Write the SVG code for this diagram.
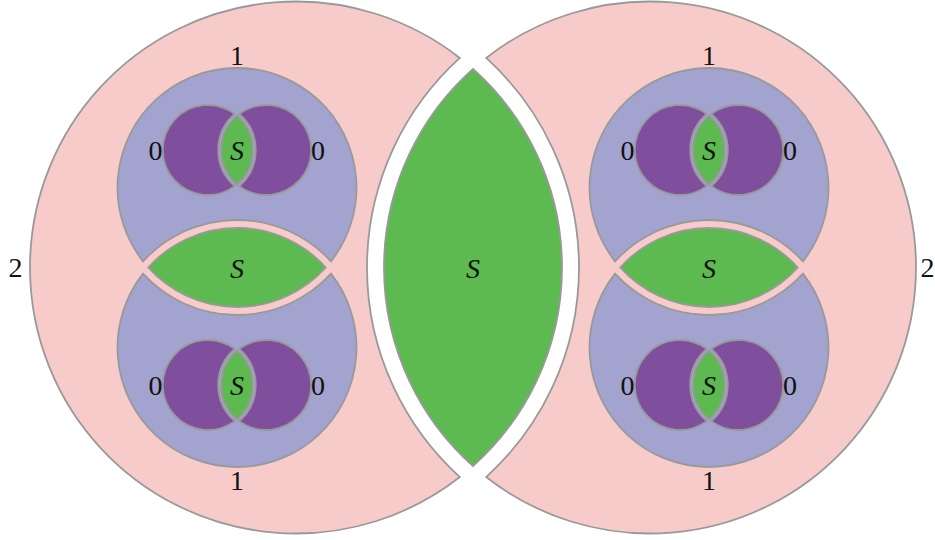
<svg xmlns="http://www.w3.org/2000/svg" xmlns:xlink="http://www.w3.org/1999/xlink" width="935" height="540" viewBox="0 0 935 540" font-family="'Liberation Serif', 'Times New Roman', serif">
<style>
.sh{stroke:#999999;stroke-width:1.8;stroke-linejoin:miter}
.pink{fill:#F8CBCB}
.blue{fill:#A3A3CF}
.purple{fill:#7F4F9E}
.green{fill:#5DBA50}
text{font-family:'Liberation Serif','Times New Roman',serif;font-size:28px;fill:#111;text-anchor:middle}
.s{font-style:italic}
</style>
<defs>
<g id="unit0">
<path class="sh purple" d="M-2.39,-36.14 A45,45 0 1,0 -2.39,36.14 A48,48 0 0,1 -2.39,-36.14 Z"/>
<path class="sh purple" d="M2.39,-36.14 A45,45 0 1,1 2.39,36.14 A48,48 0 0,0 2.39,-36.14 Z"/>
<path class="sh green" d="M0,-34.24 A45,45 0 0,1 0,34.24 A45,45 0 0,1 0,-34.24 Z"/>
<text class="s" x="0" y="9.5" font-family="'Liberation Serif', serif">S</text>
<text x="-81.5" y="9.5" font-family="'Liberation Serif', serif">0</text>
<text x="81" y="9.5" font-family="'Liberation Serif', serif">0</text>
</g>
</defs>
<g id="level2-left">
<path class="sh pink" d="M459.82,57.93 A266,266 0 1,0 459.82,477.07 A283,283 0 0,1 459.82,57.93 Z"/>
<text x="15.5" y="277" font-family="'Liberation Serif', serif">2</text>
</g>
<g id="level2-right">
<path class="sh pink" d="M486.18,57.93 A266,266 0 1,1 486.18,477.07 A283,283 0 0,0 486.18,57.93 Z"/>
<text x="927.5" y="277" font-family="'Liberation Serif', serif">2</text>
</g>
<g id="S-center">
<path class="sh green" d="M473,68.94 A266,266 0 0,1 473,466.06 A266,266 0 0,1 473,68.94 Z"/>
<text class="s" x="473" y="277.5" font-family="'Liberation Serif', serif">S</text>
</g>
<g id="level1-left-top">
<path class="sh blue" d="M143.03,261.33 A119.5,119.5 0 1,1 330.97,261.33 A127.5,127.5 0 0,0 143.03,261.33 Z"/>
<text x="237" y="64.5" font-family="'Liberation Serif', serif">1</text>
</g>
<g id="level1-left-bottom">
<path class="sh blue" d="M143.03,273.67 A119.5,119.5 0 1,0 330.97,273.67 A127.5,127.5 0 0,1 143.03,273.67 Z"/>
<text x="237" y="489.5" font-family="'Liberation Serif', serif">1</text>
</g>
<g id="S-left">
<path class="sh green" d="M148.23,267.5 A119.5,119.5 0 0,1 325.77,267.5 A119.5,119.5 0 0,1 148.23,267.5 Z"/>
<text class="s" x="237" y="277.5" font-family="'Liberation Serif', serif">S</text>
</g>
<g id="level1-right-top">
<path class="sh blue" d="M615.03,261.33 A119.5,119.5 0 1,1 802.97,261.33 A127.5,127.5 0 0,0 615.03,261.33 Z"/>
<text x="709" y="64.5" font-family="'Liberation Serif', serif">1</text>
</g>
<g id="level1-right-bottom">
<path class="sh blue" d="M615.03,273.67 A119.5,119.5 0 1,0 802.97,273.67 A127.5,127.5 0 0,1 615.03,273.67 Z"/>
<text x="709" y="489.5" font-family="'Liberation Serif', serif">1</text>
</g>
<g id="S-right">
<path class="sh green" d="M620.23,267.5 A119.5,119.5 0 0,1 797.77,267.5 A119.5,119.5 0 0,1 620.23,267.5 Z"/>
<text class="s" x="709" y="277.5" font-family="'Liberation Serif', serif">S</text>
</g>
<g id="level0-left-top"><use xlink:href="#unit0" href="#unit0" transform="translate(237,150)"/></g>
<g id="level0-left-bottom"><use xlink:href="#unit0" href="#unit0" transform="translate(237,385)"/></g>
<g id="level0-right-top"><use xlink:href="#unit0" href="#unit0" transform="translate(709,150)"/></g>
<g id="level0-right-bottom"><use xlink:href="#unit0" href="#unit0" transform="translate(709,385)"/></g>
</svg>
